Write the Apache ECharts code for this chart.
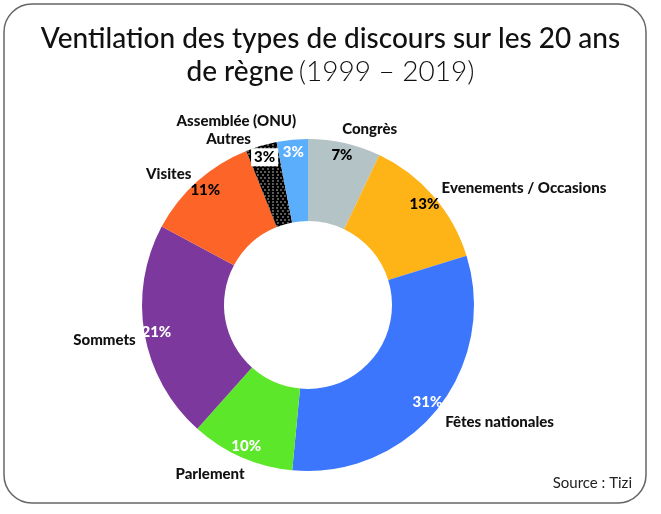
<!DOCTYPE html>
<html><head><meta charset="utf-8">
<script src="https://cdn.jsdelivr.net/npm/echarts@6/dist/echarts.min.js"></script>
<style>html,body{margin:0;padding:0;background:#fff}#c{width:661px;height:514px}</style>
</head><body><div id="c"></div>
<script>
const categories = ['Congrès','Evenements / Occasions','Fêtes nationales','Parlement','Sommets','Visites','Autres','Assemblée (ONU)'];
const values = [7,13,31,10,21,11,3,3];
const colors = ['#b3c3c6','#feb317','#3c76fd','#5de72a','#7c389c','#fd6427','#000000','#5aaefb'];
const pctColors = ['#000','#000','#fff','#fff','#fff','#000','#000','#fff'];

const chart = echarts.init(document.getElementById('c'), null, {renderer:'canvas'});
const FONT = 'Lato, "Open Sans", sans-serif';
const center = [308, 305];

const labelTweaks = {
  'Assemblée (ONU)': {offset:[10,-7]},
  'Autres': {offset:[-2,5]},
  'Visites': {offset:[7,2]},
  'Sommets': {offset:[8,4]},
  'Fêtes nationales': {offset:[-6,5]},
  'Parlement': {offset:[13,6]},
  'Evenements / Occasions': {offset:[-6,0]},
  'Congrès': {offset:[-10,-2]}
};

const mainData = categories.map((n,i)=>{
  const d = {name:n, value:values[i], itemStyle:{color:colors[i]}};
  if (n === 'Autres') {
    d.itemStyle.decal = {symbol:'circle', symbolSize:0.65, color:'#ffffff',
      dashArrayX:[[1.2,1.8],[0,1.5,1.2,0.3]], dashArrayY:[1.2,0.3], rotation:0};
  }
  if (labelTweaks[n]) d.label = labelTweaks[n];
  return d;
});
const pctData = categories.map((n,i)=>{
  const d = {name:n, value:values[i], label:{color:pctColors[i]}};
  if (n === 'Autres') d.label = {color:'#000', backgroundColor:'#fff', padding:[2,3,1,3]};
  return d;
});

chart.setOption({
  backgroundColor:'#fff',
  animation:false,
  title:{
    text:'{a|Ventilation des types de discours sur les 20 ans}\n{a|de règne} {b|(1999 – 2019)}',
    left:'center', top:17,
    textStyle:{rich:{
      a:{fontFamily:FONT, fontSize:28, fontWeight:500, color:'#111', lineHeight:33},
      b:{fontFamily:FONT, fontSize:28, fontWeight:300, color:'#111', lineHeight:33}
    }}
  },
  graphic:[
    {type:'rect', shape:{x:4, y:4, width:642, height:499, r:28}, style:{fill:'none', stroke:'#666', lineWidth:1.5}, z:-1},
    {type:'text', right:29, top:476, style:{text:'Source : Tizi', font:'15px '+FONT, fill:'#222'}}
  ],
  series:[
    {
      type:'pie', center:center, radius:[84,166], startAngle:90, clockwise:true,
      avoidLabelOverlap:false, silent:true,
      label:{show:true, position:'outside', formatter:'{b}', fontFamily:FONT, fontWeight:900, fontSize:15, color:'#111'},
      labelLine:{show:false, length:12, length2:0},
      data:mainData
    },
    {
      type:'pie', center:center, radius:[134,168], startAngle:90, clockwise:true,
      avoidLabelOverlap:false, silent:true,
      itemStyle:{color:'rgba(0,0,0,0)'},
      label:{show:true, position:'inside', formatter:'{c}%', fontFamily:FONT, fontWeight:900, fontSize:15},
      labelLine:{show:false},
      data:pctData
    }
  ]
});
</script></body></html>
